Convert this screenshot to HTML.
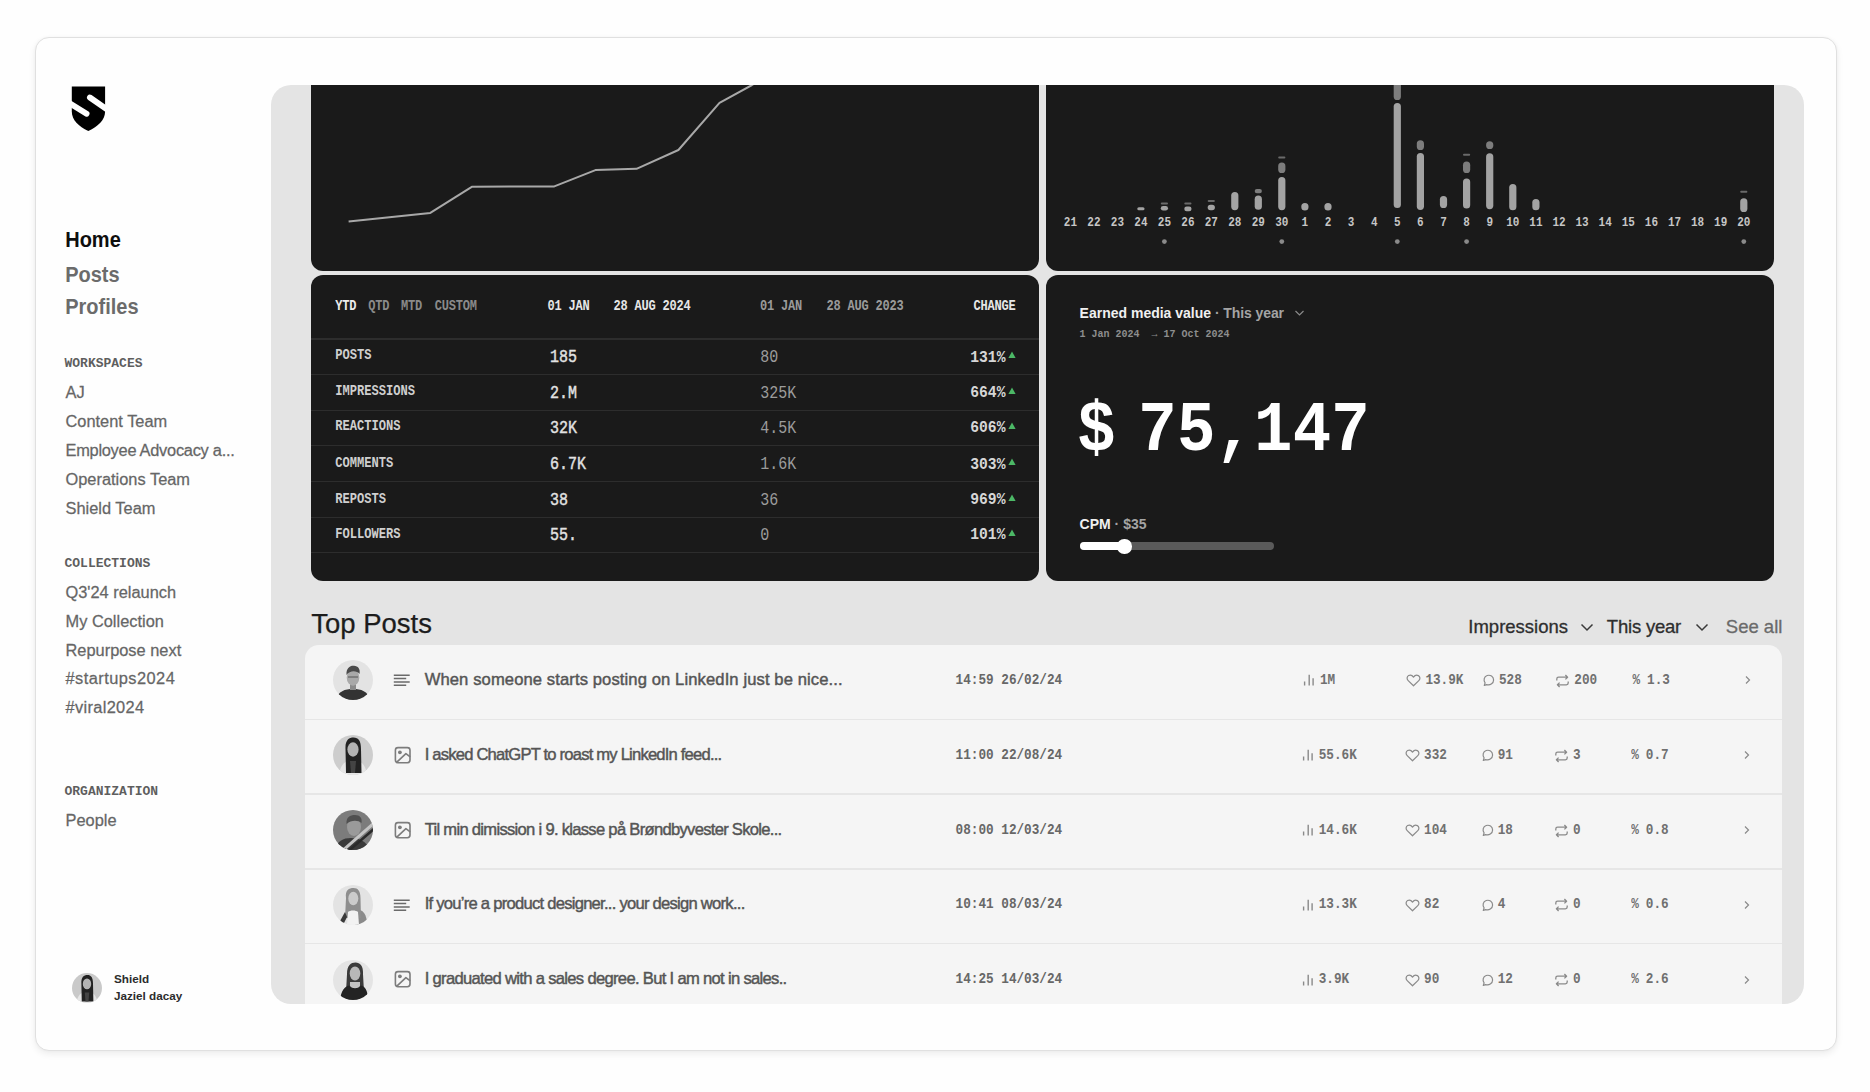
<!DOCTYPE html>
<html><head><meta charset="utf-8">
<style>
*{margin:0;padding:0;box-sizing:border-box}
html,body{width:1870px;height:1092px;overflow:hidden;background:#fefefe;font-family:"Liberation Sans",sans-serif}
.a{position:absolute;line-height:1;white-space:nowrap}
.m{font-family:"Liberation Mono",monospace}
#outer{position:absolute;left:34.6px;top:36.6px;width:1802.8px;height:1014.2px;border:1.8px solid #e0e0e0;border-radius:14px;background:#fefefe;box-shadow:0 3px 7px rgba(0,0,0,0.07),0 0 3px rgba(0,0,0,0.03)}
.nav{font-size:20px;font-weight:bold;color:#6b6b6b;left:65.2px;transform:scaleY(1.1);transform-origin:0 16.93px}
.sec{font-family:"Liberation Mono",monospace;font-weight:bold;font-size:13px;color:#5e5e5e;left:64.5px}
.it{font-size:16.4px;color:#666;left:65.5px;transform:translateY(-0.9px) scaleY(1.04);transform-origin:0 13.88px;-webkit-text-stroke:0.25px #666}
#panel{position:absolute;left:271px;top:85px;width:1533px;height:919px;border-radius:20px;background:#e4e4e4;overflow:hidden}
.card{position:absolute;background:#1a1a1a;border-radius:12px}
</style></head><body>

<div id="outer"></div>
<!-- logo -->
<svg class="a" style="left:60px;top:78px" width="60" height="60" viewBox="0 0 60 60">
<path d="M11.8 8.5 H45.1 V33.5 C45.1 42 38 48.5 28.3 53 C18.6 48.5 11.8 42 11.8 33.5 Z" fill="#000"/>
<line x1="4" y1="21.8" x2="26.6" y2="35.7" stroke="#fefefe" stroke-width="5.8" stroke-linecap="round"/>
<line x1="29.9" y1="19.5" x2="52" y2="34.8" stroke="#fefefe" stroke-width="5.8" stroke-linecap="round"/>
</svg>
<div class="a nav" style="top:229.7px;color:#0e0e0e">Home</div>
<div class="a nav" style="top:264.6px">Posts</div>
<div class="a nav" style="top:297.4px">Profiles</div>
<div class="a sec" style="top:357.2px">WORKSPACES</div>
<div class="a it" style="top:384.9px">AJ</div>
<div class="a it" style="top:414.2px">Content Team</div>
<div class="a it" style="top:443.4px;letter-spacing:-0.27px">Employee Advocacy a...</div>
<div class="a it" style="top:471.5px">Operations Team</div>
<div class="a it" style="top:500.8px">Shield Team</div>
<div class="a sec" style="top:556.9px">COLLECTIONS</div>
<div class="a it" style="top:584.7px">Q3'24 relaunch</div>
<div class="a it" style="top:613.8px">My Collection</div>
<div class="a it" style="top:643.2px">Repurpose next</div>
<div class="a it" style="top:671.2px;letter-spacing:0.45px">#startups2024</div>
<div class="a it" style="top:700.3px;letter-spacing:0.33px">#viral2024</div>
<div class="a sec" style="top:785.4px">ORGANIZATION</div>
<div class="a it" style="top:812.9px">People</div>
<!-- user -->
<svg class="a" style="left:72px;top:973px" width="30" height="30" viewBox="0 0 40 40"><defs><clipPath id="cu"><circle cx="20" cy="20" r="20"/></clipPath></defs><g clip-path="url(#cu)"><rect width="40" height="40" fill="#c9c9c9"/><path d="M6 40 C7 31 11 27 15 26 L25 26 C29 27 33 31 34 40 Z" fill="#e6e6e6"/><path d="M12.5 14 C12 5 16 2.5 20.5 2.5 C25.5 2.5 28 6 28 14 L28.5 38 L13 38 Z" fill="#222"/><ellipse cx="20" cy="14.5" rx="5.6" ry="7.2" fill="#b3b3b3"/><path d="M17 26 L23 26 L22 38 L18 38 Z" fill="#444"/></g></svg>
<div class="a" style="left:114px;top:972.8px;font-size:11.7px;font-weight:bold;color:#2c2c2c">Shield</div>
<div class="a" style="left:114px;top:989.8px;font-size:11.7px;font-weight:bold;color:#2c2c2c">Jaziel dacay</div>

<div id="panel">
  <div class="card" style="left:40px;top:-20px;width:728px;height:205.6px"></div>
  <div class="card" style="left:775.2px;top:-20px;width:728.3px;height:205.6px"></div>
  <div class="card" style="left:40px;top:190px;width:728px;height:306px"></div>
  <div class="card" style="left:775.2px;top:190px;width:728.3px;height:306px"></div>
<svg style="position:absolute;left:0;top:0" width="1533" height="919">
<g transform="translate(-271,-85)">
<polyline points="348.6,221.4 430.3,212.9 471.8,186.8 554.3,186.4 595.4,170.1 636.5,168.8 678.4,150 719.5,102.9 752,85 790,62" fill="none" stroke="#a8a8a8" stroke-width="2" stroke-linejoin="round"/>
<!--BARS-->
<rect x="1137.3" y="207.2" width="7.2" height="3.0" rx="1.5" fill="#a3a3a3"/>
<rect x="1160.8" y="206" width="7.2" height="4.6" rx="2.3" fill="#a3a3a3"/>
<rect x="1160.8" y="202.5" width="7.2" height="2.0" rx="1.0" fill="#6a6a6a"/>
<rect x="1184.3" y="206.5" width="7.2" height="4.7" rx="2.3" fill="#a3a3a3"/>
<rect x="1184.3" y="202.5" width="7.2" height="2.0" rx="1.0" fill="#6a6a6a"/>
<rect x="1207.7" y="204.7" width="7.2" height="5.5" rx="2.8" fill="#a3a3a3"/>
<rect x="1207.7" y="200" width="7.2" height="2.0" rx="1.0" fill="#6a6a6a"/>
<rect x="1231.2" y="192" width="7.2" height="18.2" rx="3.6" fill="#a3a3a3"/>
<rect x="1254.7" y="195.6" width="7.2" height="14.2" rx="3.6" fill="#a3a3a3"/>
<rect x="1254.7" y="188.9" width="7.2" height="4.4" rx="2.2" fill="#7d7d7d"/>
<rect x="1278.2" y="177" width="7.2" height="33.2" rx="3.6" fill="#a3a3a3"/>
<rect x="1278.2" y="162.5" width="7.2" height="10.5" rx="3.6" fill="#7d7d7d"/>
<rect x="1278.2" y="156.4" width="7.2" height="2.0" rx="1.0" fill="#6a6a6a"/>
<rect x="1301.3" y="203" width="7.2" height="7.6" rx="3.6" fill="#a3a3a3"/>
<rect x="1324.4" y="203" width="7.2" height="7.6" rx="3.6" fill="#a3a3a3"/>
<rect x="1393.7" y="102.9" width="7.2" height="105.2" rx="3.6" fill="#a3a3a3"/>
<rect x="1393.7" y="60" width="7.2" height="40.0" rx="3.6" fill="#7d7d7d"/>
<rect x="1416.8" y="152.9" width="7.2" height="57.0" rx="3.6" fill="#a3a3a3"/>
<rect x="1416.8" y="140.2" width="7.2" height="9.8" rx="3.6" fill="#7d7d7d"/>
<rect x="1439.9" y="196" width="7.2" height="12.0" rx="3.6" fill="#a3a3a3"/>
<rect x="1463.0" y="178.5" width="7.2" height="30.1" rx="3.6" fill="#a3a3a3"/>
<rect x="1463.0" y="161.6" width="7.2" height="11.4" rx="3.6" fill="#7d7d7d"/>
<rect x="1463.0" y="153.8" width="7.2" height="2.0" rx="1.0" fill="#6a6a6a"/>
<rect x="1486.1" y="153.3" width="7.2" height="55.9" rx="3.6" fill="#a3a3a3"/>
<rect x="1486.1" y="141.3" width="7.2" height="7.7" rx="3.6" fill="#7d7d7d"/>
<rect x="1509.2" y="184" width="7.2" height="26.3" rx="3.6" fill="#a3a3a3"/>
<rect x="1532.3" y="199" width="7.2" height="11.3" rx="3.6" fill="#a3a3a3"/>
<rect x="1740.2" y="198.3" width="7.2" height="13.7" rx="3.6" fill="#a3a3a3"/>
<rect x="1740.2" y="190.7" width="7.2" height="2.0" rx="1.0" fill="#6a6a6a"/>
<circle cx="1164.4" cy="241.6" r="2.4" fill="#8a8a8a"/>
<circle cx="1281.8" cy="241.6" r="2.4" fill="#8a8a8a"/>
<circle cx="1397.3" cy="241.6" r="2.4" fill="#8a8a8a"/>
<circle cx="1466.6" cy="241.6" r="2.4" fill="#8a8a8a"/>
<circle cx="1743.8" cy="241.6" r="2.4" fill="#8a8a8a"/>
<g transform="translate(0,225.8) scale(1,1.15)" font-family="Liberation Mono" font-weight="bold" font-size="11" fill="#c6c6c6">
<text x="1070.4" y="0" text-anchor="middle">21</text>
<text x="1093.9" y="0" text-anchor="middle">22</text>
<text x="1117.4" y="0" text-anchor="middle">23</text>
<text x="1140.9" y="0" text-anchor="middle">24</text>
<text x="1164.4" y="0" text-anchor="middle">25</text>
<text x="1187.9" y="0" text-anchor="middle">26</text>
<text x="1211.3" y="0" text-anchor="middle">27</text>
<text x="1234.8" y="0" text-anchor="middle">28</text>
<text x="1258.3" y="0" text-anchor="middle">29</text>
<text x="1281.8" y="0" text-anchor="middle">30</text>
<text x="1304.9" y="0" text-anchor="middle">1</text>
<text x="1328.0" y="0" text-anchor="middle">2</text>
<text x="1351.1" y="0" text-anchor="middle">3</text>
<text x="1374.2" y="0" text-anchor="middle">4</text>
<text x="1397.3" y="0" text-anchor="middle">5</text>
<text x="1420.4" y="0" text-anchor="middle">6</text>
<text x="1443.5" y="0" text-anchor="middle">7</text>
<text x="1466.6" y="0" text-anchor="middle">8</text>
<text x="1489.7" y="0" text-anchor="middle">9</text>
<text x="1512.8" y="0" text-anchor="middle">10</text>
<text x="1535.9" y="0" text-anchor="middle">11</text>
<text x="1559.0" y="0" text-anchor="middle">12</text>
<text x="1582.1" y="0" text-anchor="middle">13</text>
<text x="1605.2" y="0" text-anchor="middle">14</text>
<text x="1628.3" y="0" text-anchor="middle">15</text>
<text x="1651.4" y="0" text-anchor="middle">16</text>
<text x="1674.5" y="0" text-anchor="middle">17</text>
<text x="1697.6" y="0" text-anchor="middle">18</text>
<text x="1720.7" y="0" text-anchor="middle">19</text>
<text x="1743.8" y="0" text-anchor="middle">20</text>
</g>
<!--/BARS-->
</g>
</svg>

</div>
<div style="position:absolute;left:0;top:0;width:1870px;height:1003.6px;overflow:hidden">
<div class="a" style="left:335.2px;top:300.91px;font-size:12px;color:#ececec;font-family:'Liberation Mono',monospace;font-weight:bold;letter-spacing:-0.2px;transform:scaleY(1.18);transform-origin:0 9.19px">YTD</div>
<div class="a" style="left:368.3px;top:300.91px;font-size:12px;color:#8a8a8a;font-family:'Liberation Mono',monospace;font-weight:bold;letter-spacing:-0.2px;transform:scaleY(1.18);transform-origin:0 9.19px">QTD</div>
<div class="a" style="left:401.1px;top:300.91px;font-size:12px;color:#8a8a8a;font-family:'Liberation Mono',monospace;font-weight:bold;letter-spacing:-0.2px;transform:scaleY(1.18);transform-origin:0 9.19px">MTD</div>
<div class="a" style="left:434.8px;top:300.91px;font-size:12px;color:#8a8a8a;font-family:'Liberation Mono',monospace;font-weight:bold;letter-spacing:-0.2px;transform:scaleY(1.18);transform-origin:0 9.19px">CUSTOM</div>
<div class="a" style="left:547.6px;top:300.91px;font-size:12px;color:#e6e6e6;font-family:'Liberation Mono',monospace;font-weight:bold;letter-spacing:-0.2px;transform:scaleY(1.18);transform-origin:0 9.19px">01 JAN</div>
<div class="a" style="left:613.6px;top:300.91px;font-size:12px;color:#e6e6e6;font-family:'Liberation Mono',monospace;font-weight:bold;letter-spacing:-0.2px;transform:scaleY(1.18);transform-origin:0 9.19px">28 AUG 2024</div>
<div class="a" style="left:760.0px;top:300.91px;font-size:12px;color:#9a9a9a;font-family:'Liberation Mono',monospace;font-weight:bold;letter-spacing:-0.2px;transform:scaleY(1.18);transform-origin:0 9.19px">01 JAN</div>
<div class="a" style="left:826.6px;top:300.91px;font-size:12px;color:#9a9a9a;font-family:'Liberation Mono',monospace;font-weight:bold;letter-spacing:-0.2px;transform:scaleY(1.18);transform-origin:0 9.19px">28 AUG 2023</div>
<div class="a" style="left:1015.4px;top:300.91px;font-size:12px;color:#e6e6e6;font-family:'Liberation Mono',monospace;font-weight:bold;letter-spacing:-0.2px;transform:translateX(-100%) scaleY(1.18);transform-origin:0 9.19px">CHANGE</div>
<div class="a" style="left:311px;top:338.4px;width:728px;height:1.2px;background:#2d2d2d"></div>
<div class="a" style="left:311px;top:373.5px;width:728px;height:1.2px;background:#2d2d2d"></div>
<div class="a" style="left:311px;top:409.5px;width:728px;height:1.2px;background:#2d2d2d"></div>
<div class="a" style="left:311px;top:445.3px;width:728px;height:1.2px;background:#2d2d2d"></div>
<div class="a" style="left:311px;top:480.5px;width:728px;height:1.2px;background:#2d2d2d"></div>
<div class="a" style="left:311px;top:516.5px;width:728px;height:1.2px;background:#2d2d2d"></div>
<div class="a" style="left:311px;top:552.3px;width:728px;height:1.2px;background:#2d2d2d"></div>
<div class="a" style="left:335.2px;top:350.13px;font-size:12.1px;color:#cfcfcf;font-family:'Liberation Mono',monospace;font-weight:bold;transform:scaleY(1.2);transform-origin:0 9.27px">POSTS</div>
<div class="a" style="left:550.0px;top:350.81px;font-size:15px;color:#e2e2e2;font-family:'Liberation Mono',monospace;transform:scaleY(1.18);transform-origin:0 11.49px;-webkit-text-stroke:0.35px #e2e2e2">185</div>
<div class="a" style="left:760.2px;top:350.81px;font-size:15px;color:#9c9c9c;font-family:'Liberation Mono',monospace;transform:scaleY(1.18);transform-origin:0 11.49px">80</div>
<div class="a" style="left:1005.5px;top:350.54px;font-size:14.7px;color:#d6d6d6;font-family:'Liberation Mono',monospace;font-weight:bold;transform:translateX(-100%) scaleY(1.18);transform-origin:0 11.26px">131%</div>
<svg class="a" style="left:1008px;top:350.8px" width="8" height="8"><path d="M4 0.6 L7.6 7 H0.4 Z" fill="#4cb866"/></svg>
<div class="a" style="left:335.2px;top:386.13px;font-size:12.1px;color:#cfcfcf;font-family:'Liberation Mono',monospace;font-weight:bold;transform:scaleY(1.2);transform-origin:0 9.27px">IMPRESSIONS</div>
<div class="a" style="left:550.0px;top:386.61px;font-size:15px;color:#e2e2e2;font-family:'Liberation Mono',monospace;transform:scaleY(1.18);transform-origin:0 11.49px;-webkit-text-stroke:0.35px #e2e2e2">2.M</div>
<div class="a" style="left:760.2px;top:386.61px;font-size:15px;color:#9c9c9c;font-family:'Liberation Mono',monospace;transform:scaleY(1.18);transform-origin:0 11.49px">325K</div>
<div class="a" style="left:1005.5px;top:386.34px;font-size:14.7px;color:#d6d6d6;font-family:'Liberation Mono',monospace;font-weight:bold;transform:translateX(-100%) scaleY(1.18);transform-origin:0 11.26px">664%</div>
<svg class="a" style="left:1008px;top:386.6px" width="8" height="8"><path d="M4 0.6 L7.6 7 H0.4 Z" fill="#4cb866"/></svg>
<div class="a" style="left:335.2px;top:421.33px;font-size:12.1px;color:#cfcfcf;font-family:'Liberation Mono',monospace;font-weight:bold;transform:scaleY(1.2);transform-origin:0 9.27px">REACTIONS</div>
<div class="a" style="left:550.0px;top:421.71px;font-size:15px;color:#e2e2e2;font-family:'Liberation Mono',monospace;transform:scaleY(1.18);transform-origin:0 11.49px;-webkit-text-stroke:0.35px #e2e2e2">32K</div>
<div class="a" style="left:760.2px;top:421.71px;font-size:15px;color:#9c9c9c;font-family:'Liberation Mono',monospace;transform:scaleY(1.18);transform-origin:0 11.49px">4.5K</div>
<div class="a" style="left:1005.5px;top:421.44px;font-size:14.7px;color:#d6d6d6;font-family:'Liberation Mono',monospace;font-weight:bold;transform:translateX(-100%) scaleY(1.18);transform-origin:0 11.26px">606%</div>
<svg class="a" style="left:1008px;top:421.7px" width="8" height="8"><path d="M4 0.6 L7.6 7 H0.4 Z" fill="#4cb866"/></svg>
<div class="a" style="left:335.2px;top:457.63px;font-size:12.1px;color:#cfcfcf;font-family:'Liberation Mono',monospace;font-weight:bold;transform:scaleY(1.2);transform-origin:0 9.27px">COMMENTS</div>
<div class="a" style="left:550.0px;top:457.81px;font-size:15px;color:#e2e2e2;font-family:'Liberation Mono',monospace;transform:scaleY(1.18);transform-origin:0 11.49px;-webkit-text-stroke:0.35px #e2e2e2">6.7K</div>
<div class="a" style="left:760.2px;top:457.81px;font-size:15px;color:#9c9c9c;font-family:'Liberation Mono',monospace;transform:scaleY(1.18);transform-origin:0 11.49px">1.6K</div>
<div class="a" style="left:1005.5px;top:457.54px;font-size:14.7px;color:#d6d6d6;font-family:'Liberation Mono',monospace;font-weight:bold;transform:translateX(-100%) scaleY(1.18);transform-origin:0 11.26px">303%</div>
<svg class="a" style="left:1008px;top:457.8px" width="8" height="8"><path d="M4 0.6 L7.6 7 H0.4 Z" fill="#4cb866"/></svg>
<div class="a" style="left:335.2px;top:493.73px;font-size:12.1px;color:#cfcfcf;font-family:'Liberation Mono',monospace;font-weight:bold;transform:scaleY(1.2);transform-origin:0 9.27px">REPOSTS</div>
<div class="a" style="left:550.0px;top:493.51px;font-size:15px;color:#e2e2e2;font-family:'Liberation Mono',monospace;transform:scaleY(1.18);transform-origin:0 11.49px;-webkit-text-stroke:0.35px #e2e2e2">38</div>
<div class="a" style="left:760.2px;top:493.51px;font-size:15px;color:#9c9c9c;font-family:'Liberation Mono',monospace;transform:scaleY(1.18);transform-origin:0 11.49px">36</div>
<div class="a" style="left:1005.5px;top:493.24px;font-size:14.7px;color:#d6d6d6;font-family:'Liberation Mono',monospace;font-weight:bold;transform:translateX(-100%) scaleY(1.18);transform-origin:0 11.26px">969%</div>
<svg class="a" style="left:1008px;top:493.5px" width="8" height="8"><path d="M4 0.6 L7.6 7 H0.4 Z" fill="#4cb866"/></svg>
<div class="a" style="left:335.2px;top:528.83px;font-size:12.1px;color:#cfcfcf;font-family:'Liberation Mono',monospace;font-weight:bold;transform:scaleY(1.2);transform-origin:0 9.27px">FOLLOWERS</div>
<div class="a" style="left:550.0px;top:528.71px;font-size:15px;color:#e2e2e2;font-family:'Liberation Mono',monospace;transform:scaleY(1.18);transform-origin:0 11.49px;-webkit-text-stroke:0.35px #e2e2e2">55.</div>
<div class="a" style="left:760.2px;top:528.71px;font-size:15px;color:#9c9c9c;font-family:'Liberation Mono',monospace;transform:scaleY(1.18);transform-origin:0 11.49px">0</div>
<div class="a" style="left:1005.5px;top:528.44px;font-size:14.7px;color:#d6d6d6;font-family:'Liberation Mono',monospace;font-weight:bold;transform:translateX(-100%) scaleY(1.18);transform-origin:0 11.26px">101%</div>
<svg class="a" style="left:1008px;top:528.7px" width="8" height="8"><path d="M4 0.6 L7.6 7 H0.4 Z" fill="#4cb866"/></svg>
<div class="a" style="left:1079.6px;top:305.75px;font-size:14px;color:#f0f0f0;font-family:'Liberation Sans',sans-serif;font-weight:bold;transform:scaleY(1.05);transform-origin:0 11.85px">Earned media value <span style="color:#a4a4a4;letter-spacing:-0.1px">&middot; This year</span></div>
<svg class="a" style="left:1294px;top:309px" width="11" height="8"><path d="M1.5 2 L5.5 6 L9.5 2" fill="none" stroke="#8a8a8a" stroke-width="1.2"/></svg>
<div class="a" style="left:1079.4px;top:330.34px;font-size:10px;color:#8e8e8e;font-family:'Liberation Mono',monospace;font-weight:bold;transform:scaleY(1.12);transform-origin:0 7.66px">1 Jan 2024&nbsp; &rarr; 17 Oct 2024</div>
<div class="a" style="left:1077.2px;top:401.47px;font-size:64px;color:#fff;font-family:'Liberation Mono',monospace;font-weight:bold;transform:scaleY(1.1);transform-origin:0 49.03px">$</div>
<div class="a" style="left:1138.3px;top:401.47px;font-size:64px;color:#fff;font-family:'Liberation Mono',monospace;font-weight:bold;letter-spacing:0.2px;transform:scaleY(1.1);transform-origin:0 49.03px">75,147</div>
<div class="a" style="left:1079.6px;top:517.45px;font-size:14px;color:#f0f0f0;font-family:'Liberation Sans',sans-serif;font-weight:bold;transform:scaleY(1.05);transform-origin:0 11.85px">CPM <span style="color:#a4a4a4">&middot; $35</span></div>
<div class="a" style="left:1079.6px;top:542px;width:194px;height:8px;border-radius:4px;background:#5a5a5a"></div>
<div class="a" style="left:1079.6px;top:542px;width:46px;height:8px;border-radius:4px;background:#fff"></div>
<div class="a" style="left:1117px;top:539px;width:14.5px;height:14.5px;border-radius:50%;background:#fff"></div>
<div class="a" style="left:311.2px;top:610.12px;font-size:27.5px;color:#1c1c1c;font-family:'Liberation Sans',sans-serif;-webkit-text-stroke:0.25px #1c1c1c">Top Posts</div>
<div class="a" style="left:1468.3px;top:618.24px;font-size:18.5px;color:#2e2e2e;font-family:'Liberation Sans',sans-serif;-webkit-text-stroke:0.3px #2e2e2e">Impressions</div>
<svg class="a" style="left:1579px;top:621px" width="16" height="12"><path d="M2.5 3.5 L8 9 L13.5 3.5" fill="none" stroke="#3a3a3a" stroke-width="1.5"/></svg>
<div class="a" style="left:1606.8px;top:618.24px;font-size:18.5px;color:#2e2e2e;font-family:'Liberation Sans',sans-serif;letter-spacing:-0.2px;-webkit-text-stroke:0.3px #2e2e2e">This year</div>
<svg class="a" style="left:1694px;top:621px" width="16" height="12"><path d="M2.5 3.5 L8 9 L13.5 3.5" fill="none" stroke="#3a3a3a" stroke-width="1.5"/></svg>
<div class="a" style="left:1725.8px;top:618.24px;font-size:18.5px;color:#6a6a6a;font-family:'Liberation Sans',sans-serif;-webkit-text-stroke:0.3px #6a6a6a">See all</div>
<div class="a" style="left:304.5px;top:644.6px;width:1477.2px;height:359px;background:#f5f5f5;border-radius:14px 14px 0 0;overflow:hidden"></div>
<div class="a" style="left:304.7px;top:718.75px;width:1477px;height:1.5px;background:#e6e6e6"></div>
<div class="a" style="left:304.7px;top:793.25px;width:1477px;height:1.5px;background:#e6e6e6"></div>
<div class="a" style="left:304.7px;top:868.15px;width:1477px;height:1.5px;background:#e6e6e6"></div>
<div class="a" style="left:304.7px;top:942.55px;width:1477px;height:1.5px;background:#e6e6e6"></div>
<svg class="a" style="left:333px;top:660.4px" width="40" height="40"><defs><clipPath id="c0"><circle cx="20" cy="20" r="20"/></clipPath></defs><g clip-path="url(#c0)"><rect width="40" height="40" fill="#e3e3e3"/><path d="M3 40 C5 31 12 29 20 29 C28 29 35 31 37 40 Z" fill="#333"/><rect x="17" y="23" width="6" height="7" fill="#8a8a8a"/><ellipse cx="20" cy="17.5" rx="6.3" ry="8.3" fill="#a9a9a9"/><path d="M13.5 15 C13 8 17 5.5 21 5.8 C25 6 27.5 9 26.5 14 C24 10.5 17 10 13.5 15 Z" fill="#4a4a4a"/><path d="M15 17 H25" stroke="#555" stroke-width="1"/></g></svg>
<svg class="a" style="left:393px;top:671.4px" width="18" height="16"><g stroke="#6a6a6a" stroke-width="1.5"><path d="M0.8 4.2H16.7M0.8 7.5H13.2M0.8 11H16.7M0.8 14.3H13.2"/></g></svg>
<div class="a" style="left:424.7px;top:671.95px;font-size:16.6px;color:#555555;font-family:'Liberation Sans',sans-serif;letter-spacing:0.104px;-webkit-text-stroke:0.45px #555">When someone starts posting on LinkedIn just be nice...</div>
<div class="a" style="left:955.6px;top:675.07px;font-size:12.7px;color:#676767;font-family:'Liberation Mono',monospace;font-weight:bold;transform:scaleY(1.12);transform-origin:0 9.73px">14:59 26/02/24</div>
<svg class="a" style="left:1302.0px;top:674.4px" width="14" height="13"><g stroke="#8a8a8a" stroke-width="1.4"><path d="M2.6 7.5V11.6M7.2 0.8V11.6M11.1 4.2V11.6"/></g></svg>
<div class="a" style="left:1320.0px;top:675.07px;font-size:12.7px;color:#707070;font-family:'Liberation Mono',monospace;font-weight:bold;transform:scaleY(1.12);transform-origin:0 9.73px">1M</div>
<svg class="a" style="left:1406.0px;top:674.4px" width="15" height="13"><path d="M7.5 11.8 L2.2 6.6 C0.6 5 0.8 2.6 2.6 1.6 C4.3 0.7 6.3 1.4 7.5 3.2 C8.7 1.4 10.7 0.7 12.4 1.6 C14.2 2.6 14.4 5 12.8 6.6 Z" fill="none" stroke="#8a8a8a" stroke-width="1.2" stroke-linejoin="round"/></svg>
<div class="a" style="left:1425.4px;top:675.07px;font-size:12.7px;color:#707070;font-family:'Liberation Mono',monospace;font-weight:bold;transform:scaleY(1.12);transform-origin:0 9.73px">13.9K</div>
<svg class="a" style="left:1482.0px;top:674.4px" width="13" height="13"><path d="M2.3 11.5 L3.1 8.9 C1.2 6.4 2.0 2.6 5.2 1.5 C8.3 0.5 11.6 2.6 11.6 6.0 C11.6 9.6 7.8 11.8 4.6 10.6 Z" fill="none" stroke="#8a8a8a" stroke-width="1.2" stroke-linejoin="round"/></svg>
<div class="a" style="left:1499.0px;top:675.07px;font-size:12.7px;color:#707070;font-family:'Liberation Mono',monospace;font-weight:bold;transform:scaleY(1.12);transform-origin:0 9.73px">528</div>
<svg class="a" style="left:1555.0px;top:673.9px" width="15" height="14"><g fill="none" stroke="#8a8a8a" stroke-width="1.3" stroke-linejoin="round"><path d="M1.8 6.5 V5 C1.8 3.9 2.6 3.2 3.6 3.2 H12.4 M10.4 1 L12.6 3.2 L10.4 5.4"/><path d="M13.2 7.5 V9 C13.2 10.1 12.4 10.8 11.4 10.8 H2.6 M4.6 8.6 L2.4 10.8 L4.6 13"/></g></svg>
<div class="a" style="left:1574.3px;top:675.07px;font-size:12.7px;color:#707070;font-family:'Liberation Mono',monospace;font-weight:bold;transform:scaleY(1.12);transform-origin:0 9.73px">200</div>
<div class="a" style="left:1632.6px;top:675.07px;font-size:12.7px;color:#707070;font-family:'Liberation Mono',monospace;font-weight:bold;transform:scaleY(1.12);transform-origin:0 9.73px">%</div>
<div class="a" style="left:1647.1px;top:675.07px;font-size:12.7px;color:#707070;font-family:'Liberation Mono',monospace;font-weight:bold;transform:scaleY(1.12);transform-origin:0 9.73px">1.3</div>
<svg class="a" style="left:1744.0px;top:675.4px" width="8" height="10"><path d="M2 1.5 L5.5 5 L2 8.5" fill="none" stroke="#8a8a8a" stroke-width="1.2"/></svg>
<svg class="a" style="left:333px;top:735.2px" width="40" height="40"><defs><clipPath id="c1"><circle cx="20" cy="20" r="20"/></clipPath></defs><g clip-path="url(#c1)"><rect width="40" height="40" fill="#cdcdcd"/><path d="M6 40 C7 31 11 27 15 26 L25 26 C29 27 33 31 34 40 Z" fill="#e6e6e6"/><path d="M12.5 14 C12 5 16 2.5 20.5 2.5 C25.5 2.5 28 6 28 14 L28.5 38 L13 38 Z" fill="#222"/><ellipse cx="20" cy="14.5" rx="5.6" ry="7.2" fill="#b3b3b3"/><path d="M17 26 L23 26 L22 38 L18 38 Z" fill="#444"/></g></svg>
<svg class="a" style="left:393px;top:744.9px" width="20" height="20"><rect x="2.4" y="2.6" width="14.6" height="15.1" rx="2.6" fill="none" stroke="#7c7c7c" stroke-width="1.6"/><circle cx="6.9" cy="7.3" r="1.9" fill="#7c7c7c"/><path d="M3.6 17.4 L12.9 8.6 L17.2 11.8" fill="none" stroke="#7c7c7c" stroke-width="1.6" stroke-linejoin="round"/></svg>
<div class="a" style="left:424.7px;top:746.75px;font-size:16.6px;color:#555555;font-family:'Liberation Sans',sans-serif;letter-spacing:-0.797px;-webkit-text-stroke:0.45px #555">I asked ChatGPT to roast my LinkedIn feed...</div>
<div class="a" style="left:955.6px;top:749.87px;font-size:12.7px;color:#676767;font-family:'Liberation Mono',monospace;font-weight:bold;transform:scaleY(1.12);transform-origin:0 9.73px">11:00 22/08/24</div>
<svg class="a" style="left:1300.7px;top:749.2px" width="14" height="13"><g stroke="#8a8a8a" stroke-width="1.4"><path d="M2.6 7.5V11.6M7.2 0.8V11.6M11.1 4.2V11.6"/></g></svg>
<div class="a" style="left:1318.7px;top:749.87px;font-size:12.7px;color:#707070;font-family:'Liberation Mono',monospace;font-weight:bold;transform:scaleY(1.12);transform-origin:0 9.73px">55.6K</div>
<svg class="a" style="left:1404.7px;top:749.2px" width="15" height="13"><path d="M7.5 11.8 L2.2 6.6 C0.6 5 0.8 2.6 2.6 1.6 C4.3 0.7 6.3 1.4 7.5 3.2 C8.7 1.4 10.7 0.7 12.4 1.6 C14.2 2.6 14.4 5 12.8 6.6 Z" fill="none" stroke="#8a8a8a" stroke-width="1.2" stroke-linejoin="round"/></svg>
<div class="a" style="left:1424.1px;top:749.87px;font-size:12.7px;color:#707070;font-family:'Liberation Mono',monospace;font-weight:bold;transform:scaleY(1.12);transform-origin:0 9.73px">332</div>
<svg class="a" style="left:1480.7px;top:749.2px" width="13" height="13"><path d="M2.3 11.5 L3.1 8.9 C1.2 6.4 2.0 2.6 5.2 1.5 C8.3 0.5 11.6 2.6 11.6 6.0 C11.6 9.6 7.8 11.8 4.6 10.6 Z" fill="none" stroke="#8a8a8a" stroke-width="1.2" stroke-linejoin="round"/></svg>
<div class="a" style="left:1497.7px;top:749.87px;font-size:12.7px;color:#707070;font-family:'Liberation Mono',monospace;font-weight:bold;transform:scaleY(1.12);transform-origin:0 9.73px">91</div>
<svg class="a" style="left:1553.7px;top:748.7px" width="15" height="14"><g fill="none" stroke="#8a8a8a" stroke-width="1.3" stroke-linejoin="round"><path d="M1.8 6.5 V5 C1.8 3.9 2.6 3.2 3.6 3.2 H12.4 M10.4 1 L12.6 3.2 L10.4 5.4"/><path d="M13.2 7.5 V9 C13.2 10.1 12.4 10.8 11.4 10.8 H2.6 M4.6 8.6 L2.4 10.8 L4.6 13"/></g></svg>
<div class="a" style="left:1573.0px;top:749.87px;font-size:12.7px;color:#707070;font-family:'Liberation Mono',monospace;font-weight:bold;transform:scaleY(1.12);transform-origin:0 9.73px">3</div>
<div class="a" style="left:1631.3px;top:749.87px;font-size:12.7px;color:#707070;font-family:'Liberation Mono',monospace;font-weight:bold;transform:scaleY(1.12);transform-origin:0 9.73px">%</div>
<div class="a" style="left:1645.8px;top:749.87px;font-size:12.7px;color:#707070;font-family:'Liberation Mono',monospace;font-weight:bold;transform:scaleY(1.12);transform-origin:0 9.73px">0.7</div>
<svg class="a" style="left:1742.7px;top:750.2px" width="8" height="10"><path d="M2 1.5 L5.5 5 L2 8.5" fill="none" stroke="#8a8a8a" stroke-width="1.2"/></svg>
<svg class="a" style="left:333px;top:810.0px" width="40" height="40"><defs><clipPath id="c2"><circle cx="20" cy="20" r="20"/></clipPath></defs><g clip-path="url(#c2)"><rect width="40" height="40" fill="#7c7c7c"/><path d="M2 40 C4 31 10 28 18 28 C26 28 34 31 36 40 Z" fill="#3a3a3a"/><ellipse cx="21" cy="17" rx="7" ry="9" fill="#9a9a9a"/><path d="M13.5 14 C13 7 17 5 22 5 C27 5 29.5 8 28.5 13 C25 10 18 10 13.5 14 Z" fill="#505050"/><path d="M8 42 L40 14" stroke="#c4c4c4" stroke-width="3"/><path d="M12 44 L42 18" stroke="#2a2a2a" stroke-width="2.5"/></g></svg>
<svg class="a" style="left:393px;top:819.7px" width="20" height="20"><rect x="2.4" y="2.6" width="14.6" height="15.1" rx="2.6" fill="none" stroke="#7c7c7c" stroke-width="1.6"/><circle cx="6.9" cy="7.3" r="1.9" fill="#7c7c7c"/><path d="M3.6 17.4 L12.9 8.6 L17.2 11.8" fill="none" stroke="#7c7c7c" stroke-width="1.6" stroke-linejoin="round"/></svg>
<div class="a" style="left:424.7px;top:821.55px;font-size:16.6px;color:#555555;font-family:'Liberation Sans',sans-serif;letter-spacing:-0.711px;-webkit-text-stroke:0.45px #555">Til min dimission i 9. klasse p&aring; Br&oslash;ndbyvester Skole...</div>
<div class="a" style="left:955.6px;top:824.67px;font-size:12.7px;color:#676767;font-family:'Liberation Mono',monospace;font-weight:bold;transform:scaleY(1.12);transform-origin:0 9.73px">08:00 12/03/24</div>
<svg class="a" style="left:1300.7px;top:824.0px" width="14" height="13"><g stroke="#8a8a8a" stroke-width="1.4"><path d="M2.6 7.5V11.6M7.2 0.8V11.6M11.1 4.2V11.6"/></g></svg>
<div class="a" style="left:1318.7px;top:824.67px;font-size:12.7px;color:#707070;font-family:'Liberation Mono',monospace;font-weight:bold;transform:scaleY(1.12);transform-origin:0 9.73px">14.6K</div>
<svg class="a" style="left:1404.7px;top:824.0px" width="15" height="13"><path d="M7.5 11.8 L2.2 6.6 C0.6 5 0.8 2.6 2.6 1.6 C4.3 0.7 6.3 1.4 7.5 3.2 C8.7 1.4 10.7 0.7 12.4 1.6 C14.2 2.6 14.4 5 12.8 6.6 Z" fill="none" stroke="#8a8a8a" stroke-width="1.2" stroke-linejoin="round"/></svg>
<div class="a" style="left:1424.1px;top:824.67px;font-size:12.7px;color:#707070;font-family:'Liberation Mono',monospace;font-weight:bold;transform:scaleY(1.12);transform-origin:0 9.73px">104</div>
<svg class="a" style="left:1480.7px;top:824.0px" width="13" height="13"><path d="M2.3 11.5 L3.1 8.9 C1.2 6.4 2.0 2.6 5.2 1.5 C8.3 0.5 11.6 2.6 11.6 6.0 C11.6 9.6 7.8 11.8 4.6 10.6 Z" fill="none" stroke="#8a8a8a" stroke-width="1.2" stroke-linejoin="round"/></svg>
<div class="a" style="left:1497.7px;top:824.67px;font-size:12.7px;color:#707070;font-family:'Liberation Mono',monospace;font-weight:bold;transform:scaleY(1.12);transform-origin:0 9.73px">18</div>
<svg class="a" style="left:1553.7px;top:823.5px" width="15" height="14"><g fill="none" stroke="#8a8a8a" stroke-width="1.3" stroke-linejoin="round"><path d="M1.8 6.5 V5 C1.8 3.9 2.6 3.2 3.6 3.2 H12.4 M10.4 1 L12.6 3.2 L10.4 5.4"/><path d="M13.2 7.5 V9 C13.2 10.1 12.4 10.8 11.4 10.8 H2.6 M4.6 8.6 L2.4 10.8 L4.6 13"/></g></svg>
<div class="a" style="left:1573.0px;top:824.67px;font-size:12.7px;color:#707070;font-family:'Liberation Mono',monospace;font-weight:bold;transform:scaleY(1.12);transform-origin:0 9.73px">0</div>
<div class="a" style="left:1631.3px;top:824.67px;font-size:12.7px;color:#707070;font-family:'Liberation Mono',monospace;font-weight:bold;transform:scaleY(1.12);transform-origin:0 9.73px">%</div>
<div class="a" style="left:1645.8px;top:824.67px;font-size:12.7px;color:#707070;font-family:'Liberation Mono',monospace;font-weight:bold;transform:scaleY(1.12);transform-origin:0 9.73px">0.8</div>
<svg class="a" style="left:1742.7px;top:825.0px" width="8" height="10"><path d="M2 1.5 L5.5 5 L2 8.5" fill="none" stroke="#8a8a8a" stroke-width="1.2"/></svg>
<svg class="a" style="left:333px;top:884.8px" width="40" height="40"><defs><clipPath id="c3"><circle cx="20" cy="20" r="20"/></clipPath></defs><g clip-path="url(#c3)"><rect width="40" height="40" fill="#e3e3e3"/><path d="M24 24 C30 25 34 29 34 40 L22 40 Z" fill="#8a8a8a"/><path d="M13 13 C12 5 16 3 20.5 3 C25 3 27.5 6 27.5 13 L28 33 L12 33 Z" fill="#8e8e8e"/><path d="M14 40 L15 27 C17 25 23 25 25 27 L26 40 Z" fill="#f2f2f2"/><ellipse cx="20.3" cy="13.5" rx="5" ry="6.8" fill="#cbcbcb"/><path d="M7 36 L12 27 L14 32 L10 40 Z" fill="#3a3a3a"/></g></svg>
<svg class="a" style="left:393px;top:895.8px" width="18" height="16"><g stroke="#6a6a6a" stroke-width="1.5"><path d="M0.8 4.2H16.7M0.8 7.5H13.2M0.8 11H16.7M0.8 14.3H13.2"/></g></svg>
<div class="a" style="left:424.7px;top:896.35px;font-size:16.6px;color:#555555;font-family:'Liberation Sans',sans-serif;letter-spacing:-0.746px;-webkit-text-stroke:0.45px #555">If you&rsquo;re a product designer... your design work...</div>
<div class="a" style="left:955.6px;top:899.47px;font-size:12.7px;color:#676767;font-family:'Liberation Mono',monospace;font-weight:bold;transform:scaleY(1.12);transform-origin:0 9.73px">10:41 08/03/24</div>
<svg class="a" style="left:1300.7px;top:898.8px" width="14" height="13"><g stroke="#8a8a8a" stroke-width="1.4"><path d="M2.6 7.5V11.6M7.2 0.8V11.6M11.1 4.2V11.6"/></g></svg>
<div class="a" style="left:1318.7px;top:899.47px;font-size:12.7px;color:#707070;font-family:'Liberation Mono',monospace;font-weight:bold;transform:scaleY(1.12);transform-origin:0 9.73px">13.3K</div>
<svg class="a" style="left:1404.7px;top:898.8px" width="15" height="13"><path d="M7.5 11.8 L2.2 6.6 C0.6 5 0.8 2.6 2.6 1.6 C4.3 0.7 6.3 1.4 7.5 3.2 C8.7 1.4 10.7 0.7 12.4 1.6 C14.2 2.6 14.4 5 12.8 6.6 Z" fill="none" stroke="#8a8a8a" stroke-width="1.2" stroke-linejoin="round"/></svg>
<div class="a" style="left:1424.1px;top:899.47px;font-size:12.7px;color:#707070;font-family:'Liberation Mono',monospace;font-weight:bold;transform:scaleY(1.12);transform-origin:0 9.73px">82</div>
<svg class="a" style="left:1480.7px;top:898.8px" width="13" height="13"><path d="M2.3 11.5 L3.1 8.9 C1.2 6.4 2.0 2.6 5.2 1.5 C8.3 0.5 11.6 2.6 11.6 6.0 C11.6 9.6 7.8 11.8 4.6 10.6 Z" fill="none" stroke="#8a8a8a" stroke-width="1.2" stroke-linejoin="round"/></svg>
<div class="a" style="left:1497.7px;top:899.47px;font-size:12.7px;color:#707070;font-family:'Liberation Mono',monospace;font-weight:bold;transform:scaleY(1.12);transform-origin:0 9.73px">4</div>
<svg class="a" style="left:1553.7px;top:898.3px" width="15" height="14"><g fill="none" stroke="#8a8a8a" stroke-width="1.3" stroke-linejoin="round"><path d="M1.8 6.5 V5 C1.8 3.9 2.6 3.2 3.6 3.2 H12.4 M10.4 1 L12.6 3.2 L10.4 5.4"/><path d="M13.2 7.5 V9 C13.2 10.1 12.4 10.8 11.4 10.8 H2.6 M4.6 8.6 L2.4 10.8 L4.6 13"/></g></svg>
<div class="a" style="left:1573.0px;top:899.47px;font-size:12.7px;color:#707070;font-family:'Liberation Mono',monospace;font-weight:bold;transform:scaleY(1.12);transform-origin:0 9.73px">0</div>
<div class="a" style="left:1631.3px;top:899.47px;font-size:12.7px;color:#707070;font-family:'Liberation Mono',monospace;font-weight:bold;transform:scaleY(1.12);transform-origin:0 9.73px">%</div>
<div class="a" style="left:1645.8px;top:899.47px;font-size:12.7px;color:#707070;font-family:'Liberation Mono',monospace;font-weight:bold;transform:scaleY(1.12);transform-origin:0 9.73px">0.6</div>
<svg class="a" style="left:1742.7px;top:899.8px" width="8" height="10"><path d="M2 1.5 L5.5 5 L2 8.5" fill="none" stroke="#8a8a8a" stroke-width="1.2"/></svg>
<svg class="a" style="left:333px;top:959.6px" width="40" height="40"><defs><clipPath id="c4"><circle cx="20" cy="20" r="20"/></clipPath></defs><g clip-path="url(#c4)"><rect width="40" height="40" fill="#e4e4e4"/><path d="M14 14 C14 5 18 2.5 22.5 2.5 C27 2.5 30.5 6 30 14 L31 32 L13 32 Z" fill="#3a3a3a"/><ellipse cx="22" cy="13.5" rx="5.3" ry="7" fill="#b8b8b8"/><path d="M7 40 C8 31 12 26 16 25.5 C19 28 25 28 28 25.5 C32 26 35 31 35 40 Z" fill="#232323"/><path d="M17 26 C19 29 25 29 27 26 L27 22 L17 22 Z" fill="#c2c2c2"/></g></svg>
<svg class="a" style="left:393px;top:969.3px" width="20" height="20"><rect x="2.4" y="2.6" width="14.6" height="15.1" rx="2.6" fill="none" stroke="#7c7c7c" stroke-width="1.6"/><circle cx="6.9" cy="7.3" r="1.9" fill="#7c7c7c"/><path d="M3.6 17.4 L12.9 8.6 L17.2 11.8" fill="none" stroke="#7c7c7c" stroke-width="1.6" stroke-linejoin="round"/></svg>
<div class="a" style="left:424.7px;top:971.15px;font-size:16.6px;color:#555555;font-family:'Liberation Sans',sans-serif;letter-spacing:-0.687px;-webkit-text-stroke:0.45px #555">I graduated with a sales degree. But I am not in sales..</div>
<div class="a" style="left:955.6px;top:974.27px;font-size:12.7px;color:#676767;font-family:'Liberation Mono',monospace;font-weight:bold;transform:scaleY(1.12);transform-origin:0 9.73px">14:25 14/03/24</div>
<svg class="a" style="left:1300.7px;top:973.6px" width="14" height="13"><g stroke="#8a8a8a" stroke-width="1.4"><path d="M2.6 7.5V11.6M7.2 0.8V11.6M11.1 4.2V11.6"/></g></svg>
<div class="a" style="left:1318.7px;top:974.27px;font-size:12.7px;color:#707070;font-family:'Liberation Mono',monospace;font-weight:bold;transform:scaleY(1.12);transform-origin:0 9.73px">3.9K</div>
<svg class="a" style="left:1404.7px;top:973.6px" width="15" height="13"><path d="M7.5 11.8 L2.2 6.6 C0.6 5 0.8 2.6 2.6 1.6 C4.3 0.7 6.3 1.4 7.5 3.2 C8.7 1.4 10.7 0.7 12.4 1.6 C14.2 2.6 14.4 5 12.8 6.6 Z" fill="none" stroke="#8a8a8a" stroke-width="1.2" stroke-linejoin="round"/></svg>
<div class="a" style="left:1424.1px;top:974.27px;font-size:12.7px;color:#707070;font-family:'Liberation Mono',monospace;font-weight:bold;transform:scaleY(1.12);transform-origin:0 9.73px">90</div>
<svg class="a" style="left:1480.7px;top:973.6px" width="13" height="13"><path d="M2.3 11.5 L3.1 8.9 C1.2 6.4 2.0 2.6 5.2 1.5 C8.3 0.5 11.6 2.6 11.6 6.0 C11.6 9.6 7.8 11.8 4.6 10.6 Z" fill="none" stroke="#8a8a8a" stroke-width="1.2" stroke-linejoin="round"/></svg>
<div class="a" style="left:1497.7px;top:974.27px;font-size:12.7px;color:#707070;font-family:'Liberation Mono',monospace;font-weight:bold;transform:scaleY(1.12);transform-origin:0 9.73px">12</div>
<svg class="a" style="left:1553.7px;top:973.1px" width="15" height="14"><g fill="none" stroke="#8a8a8a" stroke-width="1.3" stroke-linejoin="round"><path d="M1.8 6.5 V5 C1.8 3.9 2.6 3.2 3.6 3.2 H12.4 M10.4 1 L12.6 3.2 L10.4 5.4"/><path d="M13.2 7.5 V9 C13.2 10.1 12.4 10.8 11.4 10.8 H2.6 M4.6 8.6 L2.4 10.8 L4.6 13"/></g></svg>
<div class="a" style="left:1573.0px;top:974.27px;font-size:12.7px;color:#707070;font-family:'Liberation Mono',monospace;font-weight:bold;transform:scaleY(1.12);transform-origin:0 9.73px">0</div>
<div class="a" style="left:1631.3px;top:974.27px;font-size:12.7px;color:#707070;font-family:'Liberation Mono',monospace;font-weight:bold;transform:scaleY(1.12);transform-origin:0 9.73px">%</div>
<div class="a" style="left:1645.8px;top:974.27px;font-size:12.7px;color:#707070;font-family:'Liberation Mono',monospace;font-weight:bold;transform:scaleY(1.12);transform-origin:0 9.73px">2.6</div>
<svg class="a" style="left:1742.7px;top:974.6px" width="8" height="10"><path d="M2 1.5 L5.5 5 L2 8.5" fill="none" stroke="#8a8a8a" stroke-width="1.2"/></svg>
</div>
</body></html>
